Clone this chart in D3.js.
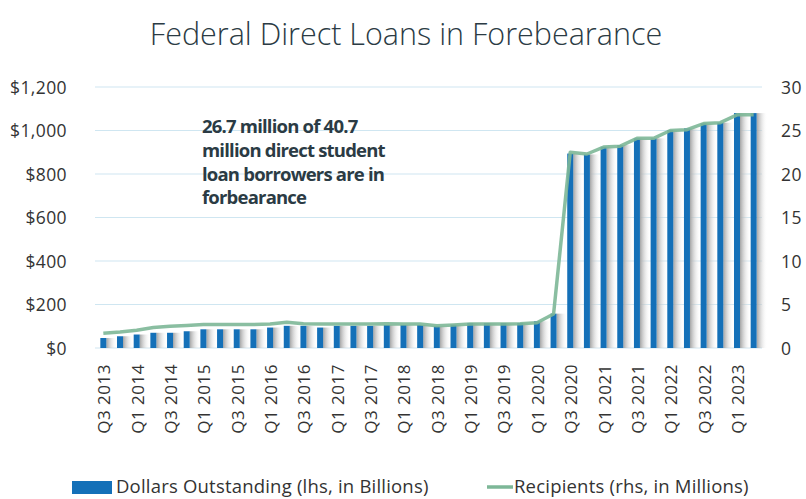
<!DOCTYPE html>
<html>
<head>
<meta charset="utf-8">
<script src="https://cdn.jsdelivr.net/npm/d3@7"></script>
<style>
  body { margin: 0; background: #fff; }
  text { font-family: "Open Sans", "Noto Sans", sans-serif; }
</style>
</head>
<body>
<div id="chart"></div>
<script>
// quarters Q3 2013 .. Q2 2023
const quarters = ["Q3 2013","Q4 2013","Q1 2014","Q2 2014","Q3 2014","Q4 2014","Q1 2015","Q2 2015","Q3 2015","Q4 2015",
  "Q1 2016","Q2 2016","Q3 2016","Q4 2016","Q1 2017","Q2 2017","Q3 2017","Q4 2017","Q1 2018","Q2 2018",
  "Q3 2018","Q4 2018","Q1 2019","Q2 2019","Q3 2019","Q4 2019","Q1 2020","Q2 2020","Q3 2020","Q4 2020",
  "Q1 2021","Q2 2021","Q3 2021","Q4 2021","Q1 2022","Q2 2022","Q3 2022","Q4 2022","Q1 2023","Q2 2023"];

// dollars outstanding, billions (lhs)
const dollars = [46,54,62,70,70,77,86,86,86,86,
  94,102,102,94,102,102,102,106,106,106,
  100,107,115,115,115,115,123,158,894,890,
  925,933,964,964,1002,1010,1033,1036,1080,1080];

// recipients, millions (rhs)
const recipients = [1.7,1.85,2.05,2.35,2.5,2.6,2.7,2.7,2.7,2.7,
  2.75,2.95,2.8,2.75,2.75,2.75,2.75,2.8,2.75,2.75,
  2.55,2.65,2.75,2.75,2.75,2.8,2.9,3.9,22.5,22.3,
  23.1,23.2,24.1,24.1,25.0,25.1,25.8,25.9,26.8,26.8];

const leftTicks = [0,200,400,600,800,1000,1200];
const rightTicks = [0,5,10,15,20,25,30];
const note = ["26.7 million of 40.7","million direct student","loan borrowers are in","forbearance"];

const width = 806, height = 499;
const margin = {top: 87, right: 44, bottom: 151, left: 95};

const svg = d3.select("#chart").append("svg")
  .attr("width", width)
  .attr("height", height);

const x = d3.scaleBand()
  .domain(quarters)
  .range([margin.left, width - margin.right]);

const yL = d3.scaleLinear().domain([0, 1200]).range([height - margin.bottom, margin.top]);
const yR = d3.scaleLinear().domain([0, 30]).range([height - margin.bottom, margin.top]);

const defs = svg.append("defs");
const grad = defs.append("linearGradient").attr("id", "shade");
grad.append("stop").attr("offset", "0%").attr("stop-color", "#a4a4a4");
grad.append("stop").attr("offset", "100%").attr("stop-color", "#ffffff").attr("stop-opacity", 0);

// title
svg.append("text")
  .attr("x", 406).attr("y", 45)
  .attr("text-anchor", "middle")
  .style("font-size", "30.5px")
  .style("font-weight", 300)
  .attr("fill", "#2b3b44")
  .text("Federal Direct Loans in Forebearance");

// gridlines
svg.append("g").selectAll("line")
  .data(leftTicks)
  .enter().append("line")
  .attr("x1", margin.left).attr("x2", width - margin.right)
  .attr("y1", d => yL(d)).attr("y2", d => yL(d))
  .attr("stroke", "#cfe6f1").attr("stroke-width", 1.2);

// left axis
const gL = svg.append("g")
  .attr("transform", "translate(" + (margin.left - 25) + ",0)")
  .call(d3.axisLeft(yL).tickValues(leftTicks).tickSize(0).tickFormat(d => "$" + d3.format(",")(d)));
gL.select(".domain").remove();
gL.selectAll("text").style("font-size", "17.5px").style("letter-spacing", "0.4px")
  .attr("fill", "#333").attr("dy", "0.35em");

// right axis
const gR = svg.append("g")
  .attr("transform", "translate(" + (width - margin.right + 16) + ",0)")
  .call(d3.axisRight(yR).tickValues(rightTicks).tickSize(0));
gR.select(".domain").remove();
gR.selectAll("text").style("font-size", "17.5px").style("letter-spacing", "0.4px")
  .attr("fill", "#333").attr("dy", "0.35em");

const bw = 6;

// bar shading
svg.append("g").selectAll("rect")
  .data(dollars)
  .enter().append("rect")
  .attr("x", (d, i) => x(quarters[i]) + x.bandwidth() / 2 + bw / 2)
  .attr("y", d => yL(d))
  .attr("width", x.bandwidth() - bw)
  .attr("height", d => yL(0) - yL(d))
  .attr("fill", "url(#shade)");

// bars
svg.append("g").selectAll("rect")
  .data(dollars)
  .enter().append("rect")
  .attr("x", (d, i) => x(quarters[i]) + x.bandwidth() / 2 - bw / 2)
  .attr("y", d => yL(d))
  .attr("width", bw)
  .attr("height", d => yL(0) - yL(d))
  .attr("fill", "#1470b8");

// recipients line
const line = d3.line()
  .x((d, i) => x(quarters[i]) + x.bandwidth() / 2)
  .y(d => yR(d));

svg.append("path")
  .datum(recipients)
  .attr("d", line)
  .attr("fill", "none")
  .attr("stroke", "#7db797")
  .attr("stroke-opacity", 0.9)
  .attr("stroke-width", 3.5)
  .attr("stroke-linejoin", "round");

// x labels, every other quarter
const xl = svg.append("g");
quarters.forEach((q, i) => {
  if (i % 2) return;
  const cx = x(q) + x.bandwidth() / 2 + 1;
  xl.append("text")
    .attr("transform", "translate(" + cx + ",364) rotate(-90)")
    .attr("text-anchor", "end")
    .attr("dy", "0.35em")
    .style("font-size", "17px")
    .style("letter-spacing", "0.5px")
    .attr("fill", "#333")
    .text(q);
});

// annotation
svg.append("g").selectAll("text")
  .data(note)
  .enter().append("text")
  .attr("x", 202)
  .attr("y", (d, i) => 133 + i * 23.8)
  .style("font-size", "18.5px")
  .style("font-weight", "bold")
  .style("letter-spacing", "-0.8px")
  .attr("fill", "#2b3b44")
  .text(d => d);

// legend
const lg = svg.append("g");
lg.append("rect").attr("x", 72).attr("y", 481).attr("width", 40).attr("height", 13).attr("fill", "#1470b8");
lg.append("text").attr("x", 116).attr("y", 493)
  .style("font-size", "18.5px").style("letter-spacing", "0.2px").attr("fill", "#333")
  .text("Dollars Outstanding (lhs, in Billions)");
lg.append("line").attr("x1", 487).attr("x2", 513).attr("y1", 487).attr("y2", 487)
  .attr("stroke", "#7db797").attr("stroke-width", 3.5);
lg.append("text").attr("x", 514).attr("y", 493)
  .style("font-size", "18.5px").style("letter-spacing", "0.2px").attr("fill", "#333")
  .text("Recipients (rhs, in Millions)");
</script>
</body>
</html>
